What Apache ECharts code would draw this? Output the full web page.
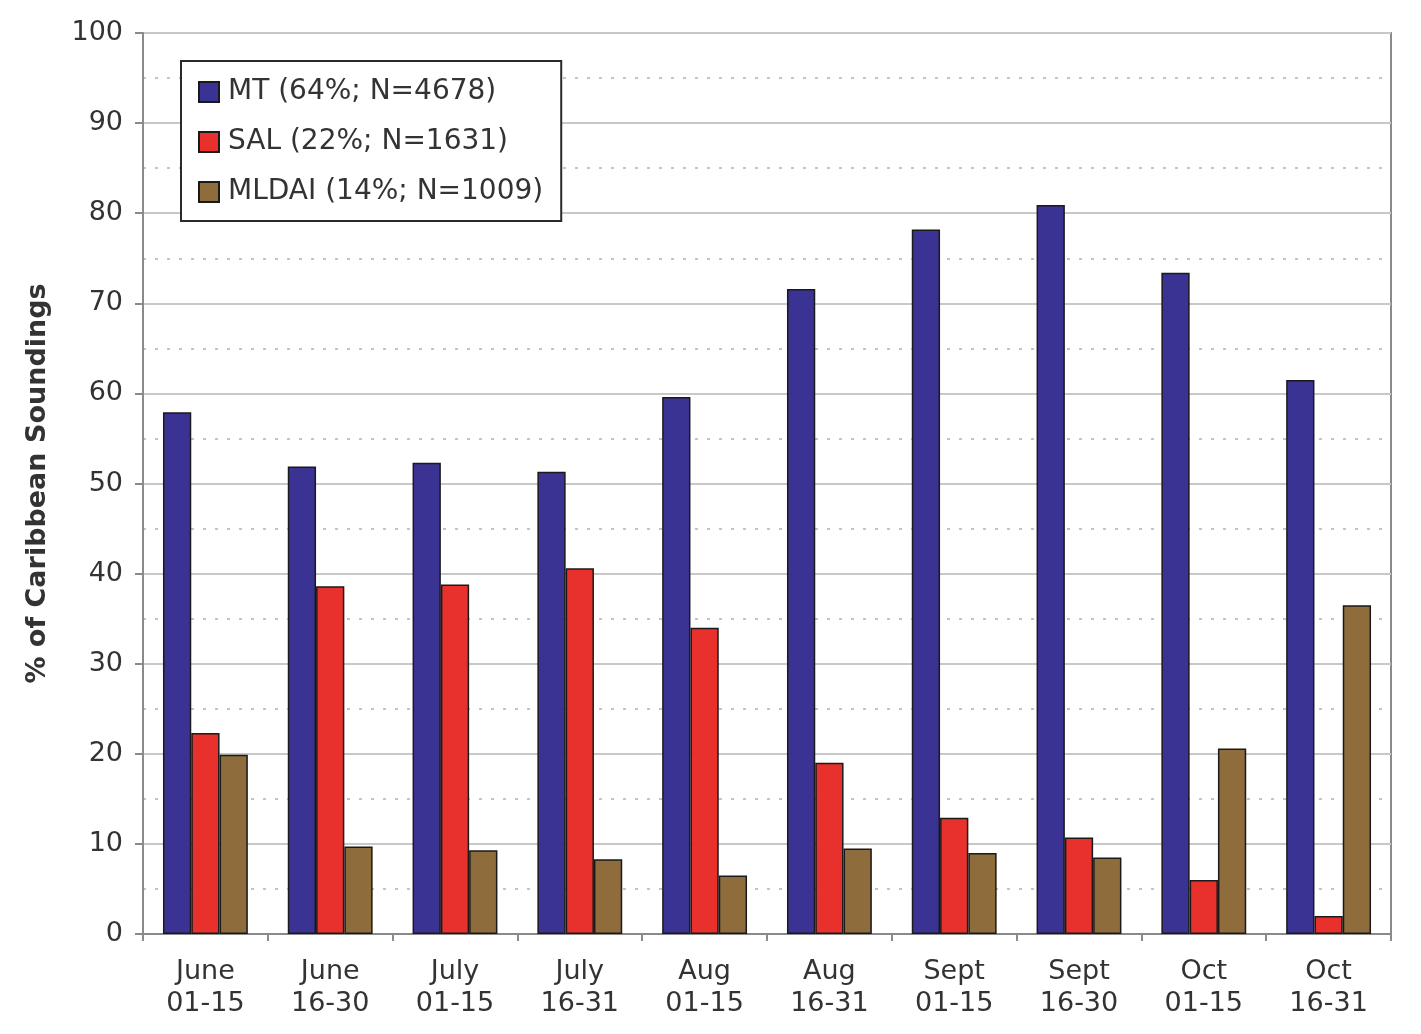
<!DOCTYPE html>
<html><head><meta charset="utf-8">
<script src="https://cdn.jsdelivr.net/npm/echarts@6/dist/echarts.min.js"></script>
<style>html,body{margin:0;padding:0;background:#fff}#c{width:1421px;height:1034px}</style>
</head><body><div id="c"></div>
<script>
const categories = ['June\n01-15','June\n16-30','July\n01-15','July\n16-31','Aug\n01-15','Aug\n16-31','Sept\n01-15','Sept\n16-30','Oct\n01-15','Oct\n16-31'];
const seriesNames = ['MT (64%; N=4678)','SAL (22%; N=1631)','MLDAI (14%; N=1009)'];
const mtValues = [57.9, 51.9, 52.3, 51.3, 59.6, 71.6, 78.2, 80.9, 73.4, 61.5];
const salValues = [22.3, 38.6, 38.8, 40.6, 34.0, 19.0, 12.9, 10.7, 6.0, 2.0];
const mldaiValues = [19.9, 9.7, 9.3, 8.3, 6.5, 9.5, 9.0, 8.5, 20.6, 36.5];
const colors = ['#3b3394','#e8302d','#8e6c3c'];
const font = 'DejaVu Sans';
const chart = echarts.init(document.getElementById('c'));
const mk = (name, data, color) => ({
  name, type:'bar', data, barGap:'0%', barCategoryGap:'32%',
  itemStyle:{color, borderColor:'#1a1a1a', borderWidth:1.5}
});
chart.setOption({
  animation:false,
  grid:{left:143, right:30, top:33, bottom:100, show:true, borderColor:'#8a8a8a', borderWidth:2},
  legend:{
    orient:'vertical', left:181, top:61, itemWidth:20, itemHeight:20, itemGap:22,
    padding:[17,18,15,17], borderColor:'#2a2a2a', borderWidth:2, backgroundColor:'#fff',
    icon:'rect',
    textStyle:{fontFamily:font, fontSize:28, color:'#333', padding:[0,0,0,4]},
    data:seriesNames
  },
  xAxis:{
    type:'category', data:categories,
    axisLine:{lineStyle:{color:'#8a8a8a', width:2}},
    axisTick:{show:true, length:7, lineStyle:{color:'#8a8a8a', width:2}},
    axisLabel:{fontFamily:font, fontSize:27, color:'#333', lineHeight:32, margin:22}
  },
  yAxis:{
    type:'value', min:0, max:100, interval:10,
    name:'% of Caribbean Soundings', nameLocation:'middle', nameGap:92,
    nameTextStyle:{fontFamily:font, fontSize:27, fontWeight:'bold', color:'#333'},
    axisLine:{show:true, lineStyle:{color:'#8a8a8a', width:2}},
    axisTick:{show:true, length:8, lineStyle:{color:'#8a8a8a', width:2}},
    axisLabel:{fontFamily:font, fontSize:27, color:'#333', margin:20},
    splitLine:{lineStyle:{color:'#c8c8c8', width:2}},
    minorTick:{show:false, splitNumber:2},
    minorSplitLine:{show:true, lineStyle:{color:'#c4c4c4', width:2, type:[3,9]}}
  },
  series:[mk(seriesNames[0], mtValues, colors[0]), mk(seriesNames[1], salValues, colors[1]), mk(seriesNames[2], mldaiValues, colors[2])]
});
</script></body></html>
